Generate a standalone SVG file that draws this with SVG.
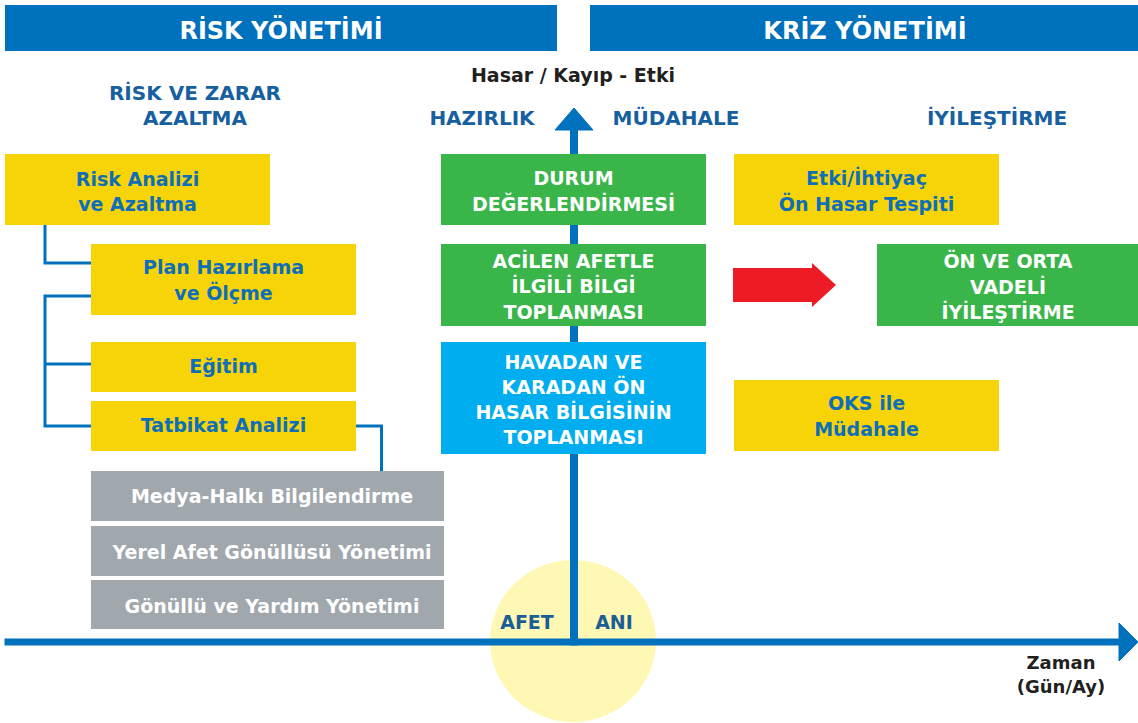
<svg xmlns="http://www.w3.org/2000/svg" width="1138" height="723" viewBox="0 0 1138 723">
<style>
text{font-family:"DejaVu Sans","Liberation Sans",sans-serif;font-weight:bold;text-anchor:middle}
.hdr{fill:#0071BC}
.hdrt{fill:#fff;font-size:24px}
.sec{fill:#17609F;font-size:20px}
.yel{fill:#F7D408}
.grn{fill:#39B54A}
.cyn{fill:#00AEEF}
.gry{fill:#A0A8AE}
.bt{fill:#0E6EB8;font-size:19px}
.wt{fill:#fff;font-size:19px}
.dk{fill:#231F20;font-size:18px}
.conn{fill:none;stroke:#0071BC;stroke-width:3}
.axis{stroke:#0071BC;fill:#0071BC}
</style>
<rect width="1138" height="723" fill="#fff"/>
<g id="header-risk"><rect class="hdr" x="5" y="5" width="552" height="46"/><text class="hdrt" x="281" y="39">RİSK YÖNETİMİ</text></g>
<g id="header-kriz"><rect class="hdr" x="590" y="5" width="548" height="46"/><text class="hdrt" x="865" y="39">KRİZ YÖNETİMİ</text></g>
<g id="labels">
<text class="sec" x="195" y="100">RİSK VE ZARAR</text>
<text class="sec" x="195" y="125">AZALTMA</text>
<text class="sec" x="482" y="125">HAZIRLIK</text>
<text class="sec" x="676" y="125">MÜDAHALE</text>
<text class="sec" x="997" y="125">İYİLEŞTİRME</text>
<text class="dk" x="573" y="82" style="font-size:19px">Hasar / Kayıp - Etki</text>
</g>
<g id="afet-ani">
<ellipse cx="573" cy="641" rx="83" ry="81" fill="#FFF8B5"/>
<text x="527" y="629" style="fill:#1B5E96;font-size:19px">AFET</text>
<text x="614" y="629" style="fill:#1B5E96;font-size:19px">ANI</text>
</g>
<g id="connectors">
<g id="axes" class="axis">
<rect x="570.5" y="126" width="7" height="519"/>
<polygon points="574,108 555,130 593,130"/>
<rect x="5" y="639" width="1116" height="6"/>
<polygon points="1119,623 1138,642 1119,661"/>
</g>
<path class="conn" d="M45,225 V263 H91"/>
<path class="conn" d="M91,296 H45 V426 H91 M45,364 H91"/>
<path class="conn" d="M356,426 H381.5 V471"/>
<polygon id="red-arrow" points="733,268 812,268 812,263 836,285 812,307 812,302 733,302" fill="#ED1C24"/>
</g>
<g id="risk-analizi"><rect class="yel" x="5" y="154" width="265" height="71"/><text class="bt" x="137.5" y="186">Risk Analizi</text><text class="bt" x="137.5" y="211">ve Azaltma</text></g>
<g id="plan"><rect class="yel" x="91" y="244" width="265" height="71"/><text class="bt" x="223.5" y="274">Plan Hazırlama</text><text class="bt" x="223.5" y="300">ve Ölçme</text></g>
<g id="egitim"><rect class="yel" x="91" y="342" width="265" height="50"/><text class="bt" x="223.5" y="373">Eğitim</text></g>
<g id="tatbikat"><rect class="yel" x="91" y="401" width="265" height="50"/><text class="bt" x="223.5" y="432">Tatbikat Analizi</text></g>
<g id="medya"><rect class="gry" x="91" y="471" width="353" height="50"/><text class="wt" x="272" y="503">Medya-Halkı Bilgilendirme</text></g>
<g id="yerel"><rect class="gry" x="91" y="526" width="353" height="50"/><text class="wt" x="272" y="559">Yerel Afet Gönüllüsü Yönetimi</text></g>
<g id="gonullu"><rect class="gry" x="91" y="580" width="353" height="49"/><text class="wt" x="272" y="613">Gönüllü ve Yardım Yönetimi</text></g>
<g id="durum"><rect class="grn" x="441" y="154" width="265" height="71"/><text class="wt" x="573.5" y="185">DURUM</text><text class="wt" x="573.5" y="211">DEĞERLENDİRMESİ</text></g>
<g id="acilen"><rect class="grn" x="441" y="244" width="265" height="82"/><text class="wt" x="573.5" y="268">ACİLEN AFETLE</text><text class="wt" x="573.5" y="293">İLGİLİ BİLGİ</text><text class="wt" x="573.5" y="319">TOPLANMASI</text></g>
<g id="havadan"><rect class="cyn" x="441" y="342" width="265" height="112"/><text class="wt" x="573.5" y="369">HAVADAN VE</text><text class="wt" x="573.5" y="394">KARADAN ÖN</text><text class="wt" x="573.5" y="419">HASAR BİLGİSİNİN</text><text class="wt" x="573.5" y="444">TOPLANMASI</text></g>
<g id="etki"><rect class="yel" x="734" y="154" width="265" height="71"/><text class="bt" x="866.5" y="185">Etki/İhtiyaç</text><text class="bt" x="866.5" y="211">Ön Hasar Tespiti</text></g>
<g id="on-orta"><rect class="grn" x="877" y="244" width="261" height="82"/><text class="wt" x="1008" y="268">ÖN VE ORTA</text><text class="wt" x="1008" y="294">VADELİ</text><text class="wt" x="1008" y="319">İYİLEŞTİRME</text></g>
<g id="oks"><rect class="yel" x="734" y="380" width="265" height="71"/><text class="bt" x="866.5" y="410">OKS ile</text><text class="bt" x="866.5" y="436">Müdahale</text></g>
<g id="zaman"><text class="dk" x="1061" y="669">Zaman</text><text class="dk" x="1061" y="693">(Gün/Ay)</text></g>
</svg>
